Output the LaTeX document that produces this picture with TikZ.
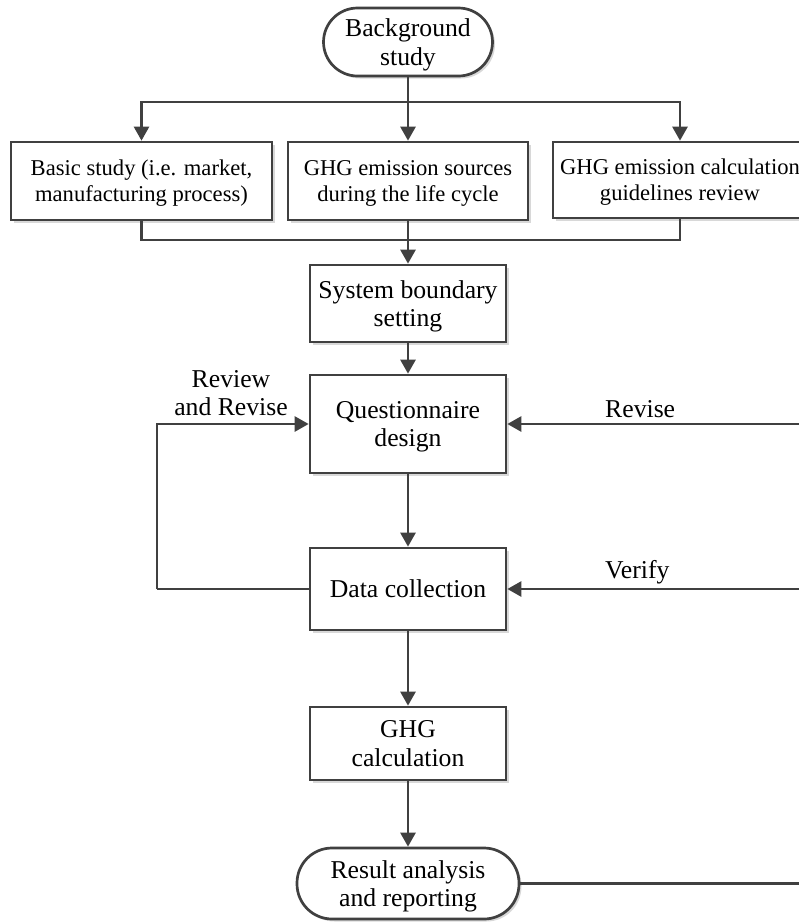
\documentclass[tikz,border=0pt]{standalone}
\usepackage{fontspec}
\setmainfont{Liberation Serif}
\usetikzlibrary{arrows.meta,shadows}
\definecolor{ln}{HTML}{404040}
\tikzset{
  x=1pt,y=-1pt,
  big/.style={font=\fontsize{25.7}{28.5}\selectfont},
  small/.style={font=\fontsize{22.6}{26}\selectfont},
  shad/.style={drop shadow={shadow xshift=2.5pt,shadow yshift=-2.5pt,opacity=0.3,fill=gray}},
  procbox/.style={draw=ln,line width=2.7pt,fill=white,shad,align=center,inner sep=0pt,text depth=0pt,big},
  termbox/.style={procbox,rounded corners=34pt},
  conn/.style={draw=ln,line width=2.6pt},
  arr/.style={conn,-{Triangle[length=14pt,width=15pt]}},
  lbl/.style={big,inner sep=0pt}
}
\begin{document}
\begin{tikzpicture}
\clip (0,0) rectangle (799,922);
\fill[white] (0,0) rectangle (799,922);
% nodes
\node[termbox,minimum width=169pt,minimum height=68pt] (bg) at (408,42) {Background\\study};
\node[procbox,small,minimum width=261pt,minimum height=78pt] (basic) at (141.5,181) {Basic study (i.e. market,\\manufacturing process)};
\node[procbox,small,minimum width=240pt,minimum height=78pt] (src) at (408,181) {GHG emission sources\\during the life cycle};
\node[procbox,small,minimum width=254pt,minimum height=76pt] (guide) at (680,180) {GHG emission calculation\\guidelines review};
\node[procbox,minimum width=196pt,minimum height=77pt] (sys) at (408,303.5) {System boundary\\setting};
\node[procbox,minimum width=196pt,minimum height=98pt] (quest) at (408,424) {Questionnaire\\design};
\node[procbox,minimum width=196pt,minimum height=82pt] (data) at (408,589) {Data collection};
\node[procbox,minimum width=196pt,minimum height=73pt] (calc) at (408,743.5) {GHG\\calculation};
\node[termbox,rounded corners=35pt,minimum width=222pt,minimum height=71pt] (res) at (408,883.5) {Result analysis\\and reporting};
% coordinates
\coordinate (tsplit) at (408,102);
\coordinate (bsplit) at (408,240);
% top fan-out
\draw[conn] (bg.south) -- (tsplit);
\draw[arr] (tsplit) -| (basic.north);
\draw[arr] (tsplit) -- (src.north);
\draw[arr] (tsplit) -| (guide.north);
% fan-in
\draw[conn] (basic.south) |- (bsplit);
\draw[conn] (guide.south) |- (bsplit);
\draw[conn] (src.south) -- (bsplit);
\draw[arr] (bsplit) -- (sys.north);
% main chain
\draw[arr] (sys) -- (quest);
\draw[arr] (quest) -- (data);
\draw[arr] (data) -- (calc);
\draw[arr] (calc) -- (res);
% left loop
\coordinate (lx) at (157,589);
\draw[conn] (data.west) -- (lx);
\draw[arr] (lx) |- (quest.west);
\node[lbl,align=center] (rr) at (231,393) {Review\\and Revise};
% right loop
\coordinate (rb) at (830,883.5);
\draw[conn] (res.east) -- (rb) -- (rb |- quest.east);
\draw[arr] (rb |- quest.east) -- (quest.east);
\draw[arr] (rb |- data.east) -- (data.east);
\node[lbl,anchor=base west] (rev) at (605,417) {Revise};
\node[lbl,anchor=base west] (ver) at (605,578) {Verify};
\end{tikzpicture}
\end{document}
